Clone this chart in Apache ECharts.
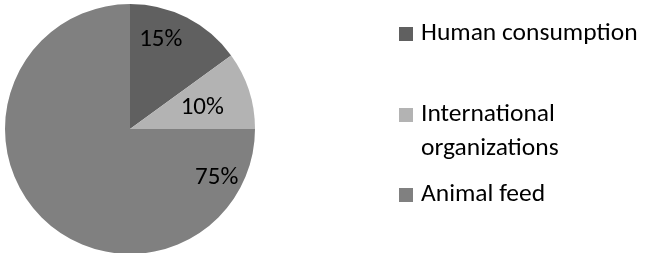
<!DOCTYPE html>
<html>
<head>
<meta charset="utf-8">
<script src="https://cdn.jsdelivr.net/npm/echarts@6/dist/echarts.min.js"></script>
<style>
  html, body { margin: 0; padding: 0; background: #fff; }
  #chart { width: 648px; height: 253px; }
</style>
</head>
<body>
<div id="chart"></div>
<script>
// pie slices, clockwise from 12 o'clock
const categories = ["Human consumption", "International organizations", "Animal feed"];
const shares = [15, 10, 75];
const sliceColors = ["#606060", "#b3b3b3", "#808080"];

const FONT = "Carlito, Lato, sans-serif";

// Excel places these labels by hand, so nudge each one from the inside spot
const labelOffsets = [[1, -31], [10, -1], [133, 2]];
const legendTops = [21, 102, 182];

function render(elemID) {
  let chart = echarts.init(document.getElementById(elemID), null, { renderer: "canvas" });

  let data = categories.map((name, i) => ({
    name: name,
    value: shares[i],
    itemStyle: { color: sliceColors[i] },
    label: { offset: labelOffsets[i] }
  }));

  let legends = categories.map((name, i) => ({
    data: [name],
    orient: "vertical",
    left: 399,
    top: legendTops[i],
    padding: 0,
    itemWidth: 14,
    itemHeight: 14,
    icon: "rect",
    formatter: n => (n == "International organizations" ? "International" : n),
    textStyle: { fontFamily: FONT, fontSize: 25.5, color: "#000", padding: [0, 0, 0, 3] },
    selectedMode: false
  }));

  let option = {
    animation: false,
    legend: legends,
    graphic: [{
      type: "text",
      left: 421,
      top: 136,
      style: { text: "organizations", font: `25.5px ${FONT}`, fill: "#000" }
    }],
    series: [{
      type: "pie",
      center: [130, 129],
      radius: 125,
      startAngle: 90,
      clockwise: true,
      data: data,
      label: {
        show: true,
        position: "inside",
        formatter: "{c}%",
        fontFamily: FONT,
        fontSize: 25,
        color: "#000"
      },
      labelLine: { show: false },
      emphasis: { disabled: true }
    }]
  };
  chart.setOption(option);
}

render("chart");
</script>
</body>
</html>
